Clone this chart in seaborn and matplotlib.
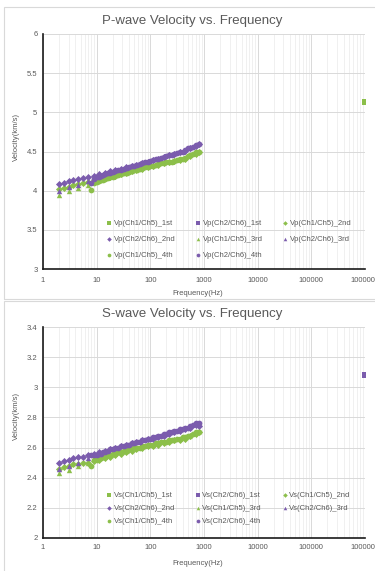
import matplotlib
matplotlib.use("Agg")
import matplotlib.pyplot as plt
import seaborn as sns
import pandas as pd
from matplotlib.patches import Rectangle
from matplotlib.ticker import LogLocator, NullFormatter

sns.set_theme(style="white")
plt.rcParams['font.family'] = ['Liberation Sans', 'DejaVu Sans']

GREEN = "#8cbf4a"
PURPLE = "#7b5cad"
GRAY = "#595959"

# ---------------- data ----------------
freq_1st = [1000000]
freq_2nd = [2, 2.5, 3, 3.7, 4.5, 5.5, 7, 9, 11, 14, 18, 22, 28, 35, 45, 55, 70, 90,
            110, 140, 180, 220, 280, 350, 450, 550, 700, 800]
freq_3rd = [2, 3, 4.5, 7]
freq_4th = [8, 9, 10, 11, 12, 13, 14, 16, 18, 20, 22, 25, 28, 32, 36, 40, 45, 50, 56,
            63, 70, 80, 90, 100, 112, 125, 140, 160, 180, 200, 225, 250, 280, 320, 360,
            400, 450, 500, 560, 630, 700, 800]

# P-wave
vp_ch1_1st = [5.13]
vp_ch2_1st = [5.13]
vp_ch1_2nd = [4.02, 4.03, 4.05, 4.07, 4.09, 4.10, 4.11, 4.13, 4.14, 4.16, 4.18, 4.19, 4.21,
              4.23, 4.25, 4.26, 4.28, 4.30, 4.31, 4.33, 4.35, 4.36, 4.38, 4.39, 4.41, 4.44,
              4.47, 4.50]
vp_ch2_2nd = [4.09, 4.10, 4.12, 4.13, 4.15, 4.16, 4.18, 4.19, 4.21, 4.23, 4.25, 4.26, 4.28,
              4.30, 4.32, 4.33, 4.35, 4.37, 4.39, 4.41, 4.43, 4.45, 4.47, 4.49, 4.51, 4.55,
              4.57, 4.60]
vp_ch1_3rd = [3.95, 3.99, 4.03, 4.07]
vp_ch2_3rd = [4.00, 4.05, 4.07, 4.12]
vp_ch1_4th = [4.01, 4.10, 4.11, 4.12, 4.13, 4.14, 4.15, 4.16, 4.17, 4.18, 4.19, 4.20, 4.21,
              4.22, 4.23, 4.24, 4.25, 4.26, 4.27, 4.28, 4.29, 4.30, 4.30, 4.31, 4.32, 4.33,
              4.34, 4.35, 4.35, 4.36, 4.37, 4.37, 4.38, 4.39, 4.40, 4.41, 4.42, 4.44, 4.45,
              4.47, 4.49, 4.50]
vp_ch2_4th = [4.10, 4.15, 4.17, 4.18, 4.19, 4.20, 4.21, 4.22, 4.23, 4.24, 4.25, 4.26, 4.27,
              4.28, 4.29, 4.30, 4.31, 4.32, 4.33, 4.34, 4.35, 4.36, 4.37, 4.38, 4.39, 4.40,
              4.41, 4.42, 4.43, 4.44, 4.45, 4.46, 4.47, 4.48, 4.49, 4.50, 4.52, 4.54, 4.55,
              4.56, 4.58, 4.59]

# S-wave
vs_ch1_1st = [3.08]
vs_ch2_1st = [3.08]
vs_ch1_2nd = [2.46, 2.47, 2.48, 2.49, 2.49, 2.50, 2.50, 2.51, 2.52, 2.53, 2.54, 2.55, 2.56,
              2.57, 2.58, 2.59, 2.60, 2.61, 2.61, 2.62, 2.63, 2.64, 2.65, 2.65, 2.66, 2.68,
              2.69, 2.70]
vs_ch2_2nd = [2.50, 2.51, 2.52, 2.53, 2.54, 2.54, 2.55, 2.56, 2.57, 2.58, 2.59, 2.60, 2.61,
              2.62, 2.63, 2.64, 2.65, 2.66, 2.66, 2.67, 2.68, 2.69, 2.70, 2.71, 2.72, 2.73,
              2.75, 2.74]
vs_ch1_3rd = [2.43, 2.45, 2.48, 2.50]
vs_ch2_3rd = [2.46, 2.48, 2.50, 2.53]
vs_ch1_4th = [2.48, 2.52, 2.52, 2.53, 2.53, 2.54, 2.54, 2.55, 2.55, 2.56, 2.56, 2.57, 2.57,
              2.58, 2.58, 2.59, 2.59, 2.60, 2.60, 2.60, 2.61, 2.61, 2.62, 2.62, 2.62, 2.63,
              2.63, 2.64, 2.64, 2.64, 2.65, 2.65, 2.65, 2.66, 2.66, 2.67, 2.67, 2.68, 2.68,
              2.69, 2.70, 2.70]
vs_ch2_4th = [2.55, 2.55, 2.55, 2.56, 2.56, 2.57, 2.57, 2.58, 2.59, 2.59, 2.60, 2.60, 2.61,
              2.61, 2.62, 2.62, 2.63, 2.63, 2.64, 2.64, 2.65, 2.65, 2.66, 2.66, 2.67, 2.67,
              2.68, 2.68, 2.69, 2.69, 2.70, 2.70, 2.71, 2.71, 2.72, 2.72, 2.73, 2.73, 2.74,
              2.75, 2.76, 2.76]

x_ticks = [1, 10, 100, 1000, 10000, 100000, 1000000]
x_tick_labels = ["1", "10", "100", "1000", "10000", "100000", "1000000"]

MARK = {"1st": "s", "2nd": "D", "3rd": "^", "4th": "o"}
SIZE = {"1st": 20, "2nd": 13, "3rd": 15, "4th": 17}
FREQ = {"1st": freq_1st, "2nd": freq_2nd, "3rd": freq_3rd, "4th": freq_4th}


def draw(ax, prefix, series, ylim, yticks, title, top_first,
         leg_y, leg_spacing, ylab_y, xpad, xlabpad):
    for tag in ["1st", "2nd", "3rd", "4th"]:
        for ch, color in [("Ch1/Ch5", GREEN), ("Ch2/Ch6", PURPLE)]:
            vals = series[(ch, tag)]
            df = pd.DataFrame({"f": FREQ[tag], "v": vals})
            z = 3
            if tag == "1st":
                z = 5 if ch == top_first else 4
            sns.scatterplot(data=df, x="f", y="v", ax=ax, marker=MARK[tag],
                            color=color, s=SIZE[tag], linewidth=0, zorder=z,
                            label=f"{prefix}({ch})_{tag}", legend=False)
    ax.set_xscale("log")
    ax.set_xlim(1, 1000000)
    ax.set_ylim(*ylim)
    ax.set_xticks(x_ticks)
    ax.set_xticklabels(x_tick_labels)
    ax.xaxis.set_minor_locator(LogLocator(base=10, subs=range(2, 10), numticks=20))
    ax.xaxis.set_minor_formatter(NullFormatter())
    ax.set_yticks(yticks)
    ax.set_yticklabels([f"{t:g}" for t in yticks])
    ax.grid(True, which="major", color="#d9d9d9", linewidth=0.7)
    ax.grid(True, which="minor", axis="x", color="#eeeeee", linewidth=0.6)
    ax.set_axisbelow(True)
    for s in ["top", "right"]:
        ax.spines[s].set_visible(False)
    for s in ["left", "bottom"]:
        ax.spines[s].set_color("#1a1a1a")
        ax.spines[s].set_linewidth(1.2)
    ax.tick_params(axis="x", which="both", length=0, labelsize=5.5,
                   labelcolor=GRAY, pad=xpad)
    ax.tick_params(axis="y", which="both", length=0, labelsize=5.5,
                   labelcolor=GRAY, pad=4)
    ax.set_xlabel("Frequency(Hz)", fontsize=5.5, color=GRAY, labelpad=xlabpad, x=0.48)
    ax.set_ylabel("Velocity(km/s)", fontsize=5.5, color=GRAY, labelpad=5, y=ylab_y)
    ax.set_title(title, fontsize=9.5, color=GRAY, pad=7, x=0.463)

    h, l = ax.get_legend_handles_labels()
    # handles order: 1st ch1, 1st ch2, 2nd ch1, 2nd ch2, 3rd ch1, 3rd ch2, 4th ch1, 4th ch2
    order = [0, 3, 6, 1, 4, 7, 2, 5]
    leg = ax.legend([h[i] for i in order], [l[i] for i in order], ncol=3,
                    loc="lower left", bbox_to_anchor=(0.185, leg_y), frameon=False,
                    fontsize=5.5, handletextpad=0.05, columnspacing=2.5,
                    labelspacing=leg_spacing, markerscale=0.65, handlelength=1.0,
                    borderaxespad=0)
    for t in leg.get_texts():
        t.set_color(GRAY)


fig = plt.figure(figsize=(3.75, 5.71), dpi=100)
fig.patch.set_facecolor("white")

ax1 = fig.add_axes([43 / 375, 1 - 269 / 571, (365 - 43) / 375, (269 - 34) / 571])
ax2 = fig.add_axes([43 / 375, 1 - 538 / 571, (365 - 43) / 375, (538 - 327) / 571])

p_series = {("Ch1/Ch5", "1st"): vp_ch1_1st, ("Ch2/Ch6", "1st"): vp_ch2_1st,
            ("Ch1/Ch5", "2nd"): vp_ch1_2nd, ("Ch2/Ch6", "2nd"): vp_ch2_2nd,
            ("Ch1/Ch5", "3rd"): vp_ch1_3rd, ("Ch2/Ch6", "3rd"): vp_ch2_3rd,
            ("Ch1/Ch5", "4th"): vp_ch1_4th, ("Ch2/Ch6", "4th"): vp_ch2_4th}
s_series = {("Ch1/Ch5", "1st"): vs_ch1_1st, ("Ch2/Ch6", "1st"): vs_ch2_1st,
            ("Ch1/Ch5", "2nd"): vs_ch1_2nd, ("Ch2/Ch6", "2nd"): vs_ch2_2nd,
            ("Ch1/Ch5", "3rd"): vs_ch1_3rd, ("Ch2/Ch6", "3rd"): vs_ch2_3rd,
            ("Ch1/Ch5", "4th"): vs_ch1_4th, ("Ch2/Ch6", "4th"): vs_ch2_4th}

draw(ax1, "Vp", p_series, (3, 6), [3, 3.5, 4, 4.5, 5, 5.5, 6],
     "P-wave Velocity vs. Frequency", "Ch1/Ch5", 0.028, 1.15, 0.56, 6, 4)
draw(ax2, "Vs", s_series, (2, 3.4), [2, 2.2, 2.4, 2.6, 2.8, 3, 3.2, 3.4],
     "S-wave Velocity vs. Frequency", "Ch2/Ch6", 0.045, 0.75, 0.58, 4, 7)

# chart borders
fig.patches.append(Rectangle((4 / 375, 1 - 299 / 571), 1.2, 292 / 571,
                             transform=fig.transFigure, fill=False,
                             edgecolor="#d9d9d9", linewidth=0.8, zorder=0))
fig.patches.append(Rectangle((4 / 375, -0.1), 1.2, 0.1 + 1 - 301 / 571,
                             transform=fig.transFigure, fill=False,
                             edgecolor="#d9d9d9", linewidth=0.8, zorder=0))

fig.savefig("out.png", dpi=100)
